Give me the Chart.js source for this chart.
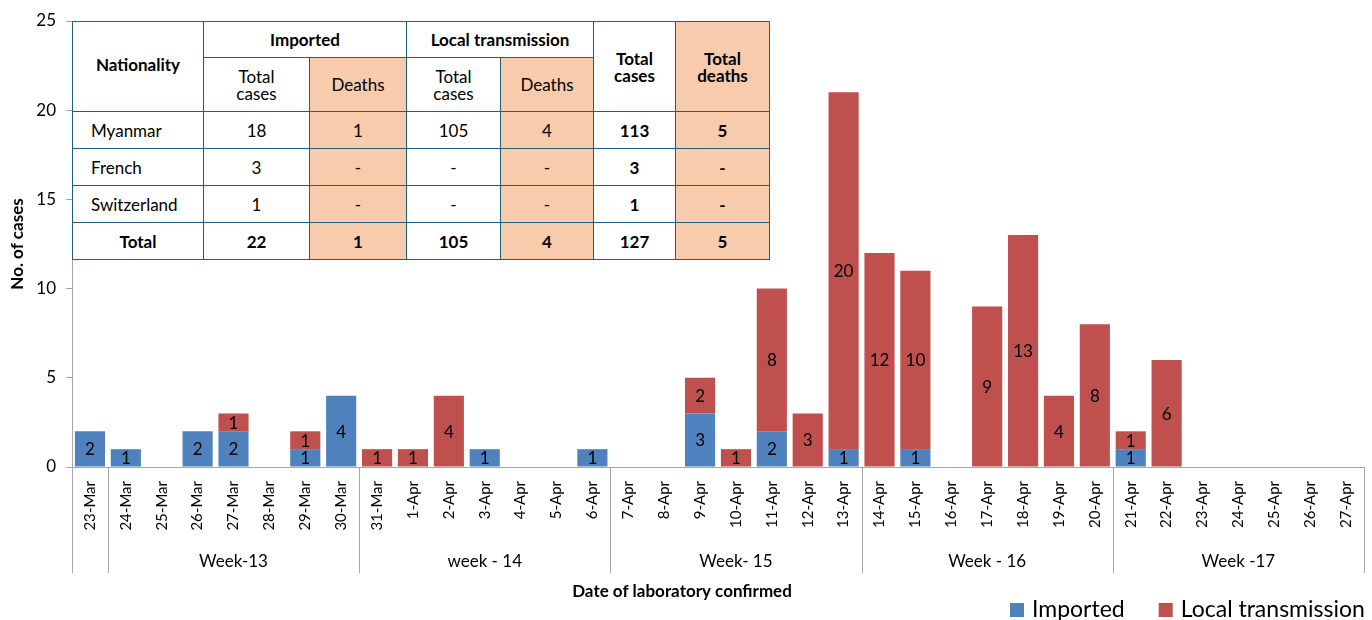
<!DOCTYPE html>
<html><head><meta charset="utf-8">
<script src="https://cdn.jsdelivr.net/npm/chart.js@4.4.1/dist/chart.umd.min.js"></script>
<style>
html,body{margin:0;padding:0;background:#fff;}
#wrap{position:relative;width:1372px;height:620px;overflow:hidden;}
#c{position:absolute;left:0;top:0;}
#tbl{position:absolute;left:72px;top:21px;border-collapse:collapse;background:#fff;font-family:Lato,"Open Sans",sans-serif;font-size:17px;color:#000;table-layout:fixed;width:697px;}
#tbl td{border:1.5px solid #1f5f7a;text-align:center;padding:0;line-height:17px;}
#tbl td.l{text-align:left;padding-left:18px;}
.p{background:#f8cbad;}
.b{font-weight:bold;}
</style></head>
<body>
<div id="wrap">
<canvas id="c" width="1372" height="620"></canvas>
<table id="tbl"></table>
</div>
<script>
// ---- chart data ----
const dates = ["23-Mar","24-Mar","25-Mar","26-Mar","27-Mar","28-Mar","29-Mar","30-Mar","31-Mar",
  "1-Apr","2-Apr","3-Apr","4-Apr","5-Apr","6-Apr","7-Apr","8-Apr","9-Apr","10-Apr","11-Apr",
  "12-Apr","13-Apr","14-Apr","15-Apr","16-Apr","17-Apr","18-Apr","19-Apr","20-Apr","21-Apr",
  "22-Apr","23-Apr","24-Apr","25-Apr","26-Apr","27-Apr"];
const imported = [2,1,null,2,2,null,1,4,null,null,null,1,null,null,1,null,null,3,null,2,
  null,1,null,1,null,null,null,null,null,1,null,null,null,null,null,null];
const localTransmission = [null,null,null,null,1,null,1,null,1,1,4,null,null,null,null,null,null,2,1,8,
  3,20,12,10,null,9,13,4,8,1,6,null,null,null,null,null];
const weekLabels = ["","Week-13","week - 14","Week- 15","Week - 16","Week -17"];
const weekStart = [0,1,8,15,22,29];
const weekEnd = [0,7,14,21,28,35];
const yTicks = [0,5,10,15,20,25];
const xTitle = "Date of laboratory confirmed";
const yTitle = "No. of cases";

// ---- table data ----
const tableHeadGroups = ["Imported","Local transmission"];
const tableSubHeads = ["Total cases","Deaths","Total cases","Deaths"];
const tableRows = [
  ["Myanmar","18","1","105","4","113","5"],
  ["French","3","-","-","-","3","-"],
  ["Switzerland","1","-","-","-","1","-"],
  ["Total","22","1","105","4","127","5"]
];

const FONT = 'Lato, "Open Sans", sans-serif';
const BLUE = '#4f81bd', RED = '#c0504d';

// build table
(function(){
  const t = document.getElementById('tbl');
  const widths = [131,106,97,94,93,82,94];
  let h = '<colgroup>' + widths.map(w=>'<col style="width:'+w+'px">').join('') + '</colgroup>';
  h += '<tr style="height:36px"><td rowspan="2" class="b" style="padding-bottom:4px">Nationality</td>' +
       '<td colspan="2" class="b">'+tableHeadGroups[0]+'</td><td colspan="2" class="b">'+tableHeadGroups[1]+'</td>' +
       '<td rowspan="2" class="b">Total<br>cases</td><td rowspan="2" class="b p">Total<br>deaths</td></tr>';
  h += '<tr style="height:54px">' + tableSubHeads.map((s,i)=>'<td'+(i%2?' class="p"':'')+'>'+s.replace(' ','<br>')+'</td>').join('') + '</tr>';
  tableRows.forEach((r,ri)=>{
    const last = ri===tableRows.length-1;
    h += '<tr style="height:37px">' + r.map((v,ci)=>{
      const cls = [];
      if(ci===0 && !last) cls.push('l');
      if(ci===2||ci===4||ci===6) cls.push('p');
      if(last||ci>=5) cls.push('b');
      return '<td class="'+cls.join(' ')+'">'+v+'</td>';
    }).join('') + '</tr>';
  });
  t.innerHTML = h;
})();

const valueLabels = {
  id:'valueLabels',
  afterDatasetsDraw(chart){
    const ctx = chart.ctx;
    ctx.save();
    ctx.font = '17px ' + FONT;
    ctx.fillStyle = '#000';
    ctx.textAlign = 'center';
    ctx.textBaseline = 'middle';
    chart.data.datasets.forEach((ds,di)=>{
      chart.getDatasetMeta(di).data.forEach((bar,i)=>{
        const v = ds.data[i];
        if(!v) return;
        const p = bar.getProps(['x','y','base'],true);
        ctx.fillText(String(v), p.x, (p.y+p.base)/2 + 1);
      });
    });
    ctx.restore();
  }
};

const weekGroups = {
  id:'weekGroups',
  afterDraw(chart){
    const ctx = chart.ctx, xs = chart.scales.x, area = chart.chartArea;
    const bottomY = area.bottom + 106;
    ctx.save();
    ctx.strokeStyle = '#a6a6a6';
    ctx.lineWidth = 1;
    const edge = i => i<=0 ? area.left : (i>=dates.length ? area.right :
      (xs.getPixelForValue(i-1)+xs.getPixelForValue(i))/2);
    const seps = new Set();
    weekStart.forEach((s,k)=>{ seps.add(edge(s)); seps.add(edge(weekEnd[k]+1)); });
    seps.forEach(x=>{
      const xx = Math.round(x)+0.5;
      ctx.beginPath(); ctx.moveTo(xx, area.bottom); ctx.lineTo(xx, bottomY); ctx.stroke();
    });
    ctx.font = '17px ' + FONT;
    ctx.fillStyle = '#000';
    ctx.textAlign = 'center';
    ctx.textBaseline = 'middle';
    weekLabels.forEach((lab,k)=>{
      if(!lab) return;
      const cx = (edge(weekStart[k]) + edge(weekEnd[k]+1))/2;
      ctx.fillText(lab, cx, area.bottom + 95);
    });
    // axis titles
    ctx.font = 'bold 17px ' + FONT;
    ctx.fillText(xTitle, 682, 592);
    ctx.save();
    ctx.translate(18, 244);
    ctx.rotate(-Math.PI/2);
    ctx.fillText(yTitle, 0, 0);
    ctx.restore();
    // legend
    const items = chart.data.datasets.map(d=>({label:d.label,color:d.backgroundColor}));
    ctx.font = '23px ' + FONT;
    ctx.textAlign = 'left';
    let x = 1010;
    items.forEach(it=>{
      ctx.fillStyle = it.color;
      ctx.fillRect(x, 603, 14, 14);
      ctx.fillStyle = '#000';
      ctx.fillText(it.label, x+22, 610);
      x += 22 + ctx.measureText(it.label).width + 34;
    });
    ctx.restore();
  }
};

new Chart(document.getElementById('c'), {
  type:'bar',
  data:{
    labels: dates,
    datasets:[
      {label:'Imported', data: imported, backgroundColor: BLUE, stack:'s'},
      {label:'Local transmission', data: localTransmission, backgroundColor: RED, stack:'s'}
    ]
  },
  options:{
    responsive:false,
    animation:false,
    layout:{padding:{top:21,right:8,left:0,bottom:0}},
    datasets:{bar:{categoryPercentage:1, barPercentage:0.84}},
    plugins:{legend:{display:false}, tooltip:{enabled:false}},
    scales:{
      x:{
        stacked:true,
        grid:{display:false},
        border:{display:true,color:'#a6a6a6'},
        ticks:{maxRotation:90,minRotation:90,autoSkip:false,padding:6,color:'#000',font:{family:FONT,size:15}},
        afterFit(s){ s.height = 153; }
      },
      y:{
        stacked:true,
        min:0,max:25,
        afterBuildTicks(s){ s.ticks = yTicks.map(v=>({value:v})); },
        grid:{drawOnChartArea:false,drawTicks:true,tickLength:6,color:'#a6a6a6'},
        border:{display:true,color:'#a6a6a6'},
        ticks:{padding:10,color:'#000',font:{family:FONT,size:17}},
        afterFit(s){ s.width = 72; }
      }
    }
  },
  plugins:[valueLabels, weekGroups]
});
</script>
</body></html>
